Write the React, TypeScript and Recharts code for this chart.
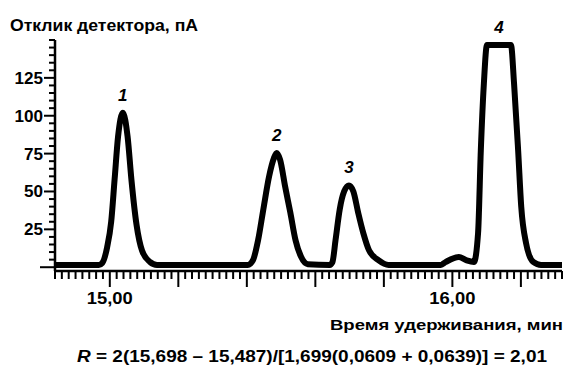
import { LineChart, Line, XAxis, YAxis, ReferenceDot } from 'recharts'

// retention time, min
const times = [
  14.84, 14.968, 14.978, 14.992, 15.004, 15.014, 15.024, 15.038, 15.052, 15.063, 15.078, 15.094, 15.117, 15.138,
  15.403, 15.418, 15.433, 15.448, 15.465, 15.479, 15.487, 15.497, 15.512, 15.527, 15.542, 15.558, 15.578,
  15.642, 15.65, 15.659, 15.671, 15.684, 15.698, 15.711, 15.725, 15.74, 15.757, 15.784, 15.814,
  15.966, 15.981, 16.019, 16.04, 16.063, 16.075, 16.083, 16.092, 16.101, 16.171, 16.18, 16.192, 16.201,
  16.215, 16.236, 16.259, 16.324,
]

// detector response, pA
const response = [
  1.5, 1.5, 2.8, 13, 30, 58, 86, 102, 86, 58, 28, 11, 3.5, 1.5,
  1.5, 4.7, 18, 38, 60, 72, 75.4, 71, 53, 36, 18, 7, 2,
  1.5, 3.5, 18, 38, 50, 54, 50, 36, 22.5, 11, 4.7, 1.5,
  1.5, 3.5, 6.7, 4.7, 3.5, 22.5, 77, 121.5, 146.7, 146.7, 121.5, 77, 40,
  16, 3.5, 1.5, 1.5,
]

const peakNames = ['1', '2', '3', '4']
const peakTimes = [15.038, 15.487, 15.698, 16.136]
const peakHeights = [102, 75.4, 54, 146.7]

const yLabelled = [25, 50, 75, 100, 125]
const xLabelled = ['15,00', '16,00']

const data = times.map((t, i) => ({ t, v: response[i] }))

// minor x ticks every 0.02 min, longer ones every 0.2 min
const xTicks: number[] = []
for (let i = 742; i <= 816; i++) xTicks.push(i / 50)
const yTicks: number[] = []
for (let i = 0; i <= 30; i++) yTicks.push(i * 5)

const FONT = '"Liberation Sans", Arial, sans-serif'

function XTick({ x, y, payload }: any) {
  const n = Math.round(payload.value * 50)
  const major = n % 10 === 0
  const label = n % 50 === 0 ? xLabelled[n / 50 - 15] : null
  return (
    <g>
      <line x1={x} x2={x} y1={y} y2={y + (major ? 16 : 8)} stroke="#000" strokeWidth={2} />
      {label && (
        <text
          x={x - 23}
          y={y + 33}
          fontFamily={FONT}
          fontWeight="bold"
          fontSize={17}
          textLength={46}
          lengthAdjust="spacingAndGlyphs"
          fill="#000"
        >
          {label}
        </text>
      )}
    </g>
  )
}

function YTick({ x, y, payload }: any) {
  const v = payload.value
  const labelled = yLabelled.includes(v)
  const len = v === 0 ? 15 : labelled ? 11 : 6
  const w = String(v).length * 9.5
  return (
    <g>
      <line x1={x - len} x2={x} y1={y} y2={y} stroke="#000" strokeWidth={2} />
      {labelled && (
        <text
          x={x - 12 - w}
          y={y + 6}
          fontFamily={FONT}
          fontWeight="bold"
          fontSize={16}
          textLength={w}
          lengthAdjust="spacingAndGlyphs"
          fill="#000"
        >
          {v}
        </text>
      )}
    </g>
  )
}

export default function App() {
  return (
    <div style={{ position: 'absolute', left: 0, top: 0, width: 564, height: 367, background: '#fff' }}>
      <LineChart width={564} height={367} data={data} margin={{ top: 40, right: 2, bottom: 66, left: 0 }}>
        <XAxis
          type="number"
          dataKey="t"
          domain={[14.84, 16.32]}
          ticks={xTicks}
          interval={0}
          allowDataOverflow
          height={30}
          tickSize={0}
          tickMargin={0}
          tickLine={false}
          axisLine={{ stroke: '#000', strokeWidth: 2.5 }}
          tick={<XTick />}
        />
        <YAxis
          type="number"
          domain={[-2.5, 150]}
          ticks={yTicks}
          interval={0}
          allowDataOverflow
          width={55}
          tickSize={0}
          tickMargin={0}
          tickLine={false}
          axisLine={{ stroke: '#000', strokeWidth: 2.5 }}
          tick={<YTick />}
        />
        <Line
          type="monotone"
          dataKey="v"
          stroke="#000"
          strokeWidth={6}
          strokeLinejoin="round"
          dot={false}
          isAnimationActive={false}
        />
        {peakNames.map((name, i) => (
          <ReferenceDot
            key={name}
            x={peakTimes[i]}
            y={peakHeights[i]}
            r={0}
            fill="none"
            stroke="none"
            label={{
              value: name,
              position: 'top',
              offset: 12,
              fill: '#000',
              fontSize: 17,
              fontWeight: 'bold',
              fontStyle: 'italic',
              fontFamily: FONT,
            }}
          />
        ))}
      </LineChart>
      <svg width={564} height={367} style={{ position: 'absolute', left: 0, top: 0, pointerEvents: 'none' }}>
        <text x={10} y={31} fontFamily={FONT} fontWeight="bold" fontSize={16} textLength={188} lengthAdjust="spacingAndGlyphs" fill="#000">
          Отклик детектора, пА
        </text>
        <text x={330} y={330} fontFamily={FONT} fontWeight="bold" fontSize={15} textLength={233} lengthAdjust="spacingAndGlyphs" fill="#000">
          Время удерживания, мин
        </text>
        <text x={77} y={362} fontFamily={FONT} fontWeight="bold" fontSize={16} textLength={470} lengthAdjust="spacingAndGlyphs" fill="#000">
          <tspan fontStyle="italic">R</tspan> = 2(15,698 – 15,487)/[1,699(0,0609 + 0,0639)] = 2,01
        </text>
      </svg>
    </div>
  )
}
